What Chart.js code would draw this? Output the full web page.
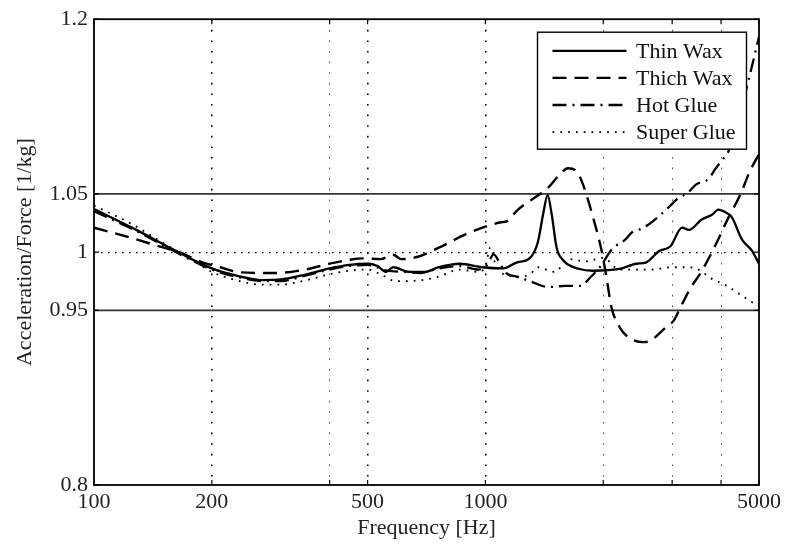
<!DOCTYPE html>
<html>
<head>
<meta charset="utf-8">
<script src="https://cdn.jsdelivr.net/npm/chart.js@4.4.1/dist/chart.umd.min.js"></script>
<style>
  html, body { margin: 0; padding: 0; background: #fff; }
  canvas { display: block; }
</style>
</head>
<body>
<canvas id="graficoResposta" width="795" height="544"></canvas>
<script>
// valores (frequencia em Hz, aceleracao/forca em 1/kg)
var thinWaxFreq = [100, 125, 150, 175, 200, 230, 270, 300, 340, 400, 450, 500, 530, 558, 581, 640, 700, 760, 860, 980, 1110, 1200, 1300, 1360, 1405, 1442, 1476, 1520, 1580, 1740, 1880, 2200, 2430, 2570, 2780, 2970, 3180, 3310, 3570, 3790, 3940, 4060, 4260, 4520, 4800, 5000];
var thinWaxValues = [1.037, 1.021, 1.007, 0.995, 0.986, 0.980, 0.976, 0.9765, 0.980, 0.986, 0.989, 0.990, 0.988, 0.983, 0.987, 0.983, 0.983, 0.987, 0.990, 0.987, 0.986, 0.991, 0.995, 1.008, 1.033, 1.049, 1.033, 1.004, 0.993, 0.9855, 0.984, 0.9855, 0.990, 0.991, 1.001, 1.005, 1.021, 1.019, 1.028, 1.032, 1.0365, 1.035, 1.030, 1.011, 1.001, 0.990];

var thichWaxFreq = [100, 125, 150, 165, 190, 210, 236, 290, 346, 412, 489, 540, 581, 610, 672, 763, 911, 1088, 1140, 1202, 1352, 1433, 1550, 1625, 1708, 1776, 1884, 1981, 2039, 2099, 2203, 2290, 2524, 2624, 2894, 3027, 3182, 3333, 3573, 3882, 4138, 4483, 4741, 5000];
var thichWaxValues = [1.021, 1.012, 1.004, 1.0, 0.991, 0.987, 0.9826, 0.982, 0.985, 0.991, 0.9946, 0.994, 0.9977, 0.994, 0.996, 1.004, 1.0168, 1.0254, 1.0268, 1.0354, 1.048, 1.054, 1.0668, 1.072, 1.0696, 1.058, 1.0297, 1.0011, 0.978, 0.9526, 0.9355, 0.9284, 0.9227, 0.9235, 0.9355, 0.9412, 0.9555, 0.9684, 0.984, 1.0069, 1.0268, 1.0497, 1.0696, 1.084];

var hotGlueFreq = [100, 125, 150, 175, 200, 230, 270, 300, 340, 400, 450, 500, 560, 620, 680, 760, 860, 960, 1010, 1050, 1090, 1130, 1200, 1300, 1450, 1600, 1750, 1850, 1970, 2110, 2265, 2370, 2500, 2620, 2780, 2950, 3100, 3290, 3450, 3720, 3860, 4000, 4170, 4400, 4600, 4800, 5000];
var hotGlueValues = [1.035, 1.02, 1.006, 0.994, 0.985, 0.979, 0.975, 0.975, 0.979, 0.985, 0.988, 0.989, 0.984, 0.983, 0.982, 0.986, 0.988, 0.985, 0.989, 0.998, 0.99, 0.982, 0.979, 0.975, 0.970, 0.971, 0.971, 0.978, 0.988, 1.003, 1.01, 1.017, 1.020, 1.024, 1.031, 1.039, 1.046, 1.051, 1.058, 1.063, 1.071, 1.078, 1.086, 1.11, 1.135, 1.16, 1.185];

var superGlueFreq = [100, 125, 150, 175, 200, 230, 270, 300, 340, 400, 450, 500, 540, 590, 690, 760, 860, 960, 1000, 1030, 1060, 1100, 1200, 1300, 1360, 1500, 1640, 1800, 2000, 2200, 2650, 3000, 3300, 3500, 3790, 4140, 4520, 4800, 5000];
var superGlueValues = [1.04, 1.024, 1.008, 0.995, 0.983, 0.976, 0.972, 0.972, 0.975, 0.981, 0.984, 0.985, 0.981, 0.975, 0.976, 0.979, 0.985, 0.983, 0.988, 1.004, 0.99, 0.982, 0.979, 0.981, 0.987, 0.983, 0.994, 0.992, 0.995, 0.985, 0.985, 0.987, 0.987, 0.985, 0.977, 0.971, 0.9626, 0.957, 0.954];

var seriesNames = ["Thin Wax", "Thich Wax", "Hot Glue", "Super Glue"];
var bandLevels = [0.95, 1.05];
var freqRange = [100, 5000];

var xTickValues = [100, 200, 400, 500, 1000, 2000, 3000, 4000, 5000];
var xTickLabels = ["100", "200", "", "500", "1000", "", "", "", "5000"];
var yTickValues = [0.8, 0.95, 1, 1.05, 1.2];
var yTickLabels = ["0.8", "0.95", "1", "1.05", "1.2"];

function pares(freq, vals) {
  return freq.map(function (f, i) {
    return { x: f, y: vals[i] };
  });
}

var fonteSerif = '"Liberation Serif", "Times New Roman", serif';

// moldura, marcas para dentro e legenda dentro da area
var molduraLegenda = {
  id: "molduraLegenda",
  afterDraw: function (chart) {
    var ctx = chart.ctx;
    var area = chart.chartArea;
    var sx = chart.scales.x;
    var sy = chart.scales.y;
    ctx.save();
    ctx.strokeStyle = "#000";
    ctx.lineWidth = 1.8;
    ctx.strokeRect(area.left, area.top, area.right - area.left, area.bottom - area.top);

    // marcas curtas das divisoes, como no original
    ctx.lineWidth = 1.2;
    ctx.beginPath();
    xTickValues.forEach(function (v) {
      var px = sx.getPixelForValue(v);
      ctx.moveTo(px, area.bottom);
      ctx.lineTo(px, area.bottom - 5);
      ctx.moveTo(px, area.top);
      ctx.lineTo(px, area.top + 5);
    });
    yTickValues.forEach(function (v) {
      var py = sy.getPixelForValue(v);
      ctx.moveTo(area.left, py);
      ctx.lineTo(area.left + 5, py);
      ctx.moveTo(area.right, py);
      ctx.lineTo(area.right - 5, py);
    });
    ctx.stroke();

    var w = 209;
    var h = 117;
    var x0 = area.right - 12.5 - w;
    var y0 = area.top + 13;
    ctx.fillStyle = "#fff";
    ctx.fillRect(x0, y0, w, h);
    ctx.lineWidth = 1.4;
    ctx.strokeRect(x0, y0, w, h);

    ctx.font = "22px " + fonteSerif;
    ctx.textBaseline = "middle";
    ctx.textAlign = "left";
    for (var i = 0; i < seriesNames.length; i++) {
      var ds = chart.data.datasets[i];
      var y = y0 + 18.6 + i * 27.1;
      ctx.save();
      ctx.setLineDash(ds.borderDash || []);
      ctx.lineWidth = ds.borderWidth;
      ctx.strokeStyle = ds.borderColor;
      ctx.beginPath();
      ctx.moveTo(x0 + 15, y);
      ctx.lineTo(x0 + 89, y);
      ctx.stroke();
      ctx.restore();
      ctx.fillStyle = "#111";
      ctx.fillText(ds.label, x0 + 98.5, y + 1);
    }
    ctx.restore();
  }
};

document.addEventListener("DOMContentLoaded", function () {
  var ctx = document.getElementById("graficoResposta").getContext("2d");

  var datasets = [
    {
      label: seriesNames[0],
      data: pares(thinWaxFreq, thinWaxValues),
      borderColor: "#000",
      borderWidth: 2.3,
      borderDash: [],
    },
    {
      label: seriesNames[1],
      data: pares(thichWaxFreq, thichWaxValues),
      borderColor: "#000",
      borderWidth: 2.4,
      borderDash: [14, 8],
    },
    {
      label: seriesNames[2],
      data: pares(hotGlueFreq, hotGlueValues),
      borderColor: "#000",
      borderWidth: 2.3,
      borderDash: [14, 6, 2, 6],
    },
    {
      label: seriesNames[3],
      data: pares(superGlueFreq, superGlueValues),
      borderColor: "#000",
      borderWidth: 1.8,
      borderDash: [1.8, 6],
    },
  ];

  bandLevels.forEach(function (nivel) {
    datasets.push({
      label: "limite " + nivel,
      data: pares(freqRange, [nivel, nivel]),
      borderColor: "#333",
      borderWidth: 1.6,
      borderDash: [],
    });
  });

  datasets.forEach(function (ds) {
    ds.fill = false;
    ds.pointRadius = 0;
    ds.pointHoverRadius = 0;
    ds.cubicInterpolationMode = "monotone";
    ds.borderCapStyle = "butt";
  });

  var grafico = new Chart(ctx, {
    type: "line",
    data: { datasets: datasets },
    options: {
      responsive: false,
      animation: false,
      events: [],
      layout: {
        padding: { top: 18, right: 36, bottom: 0, left: 0 },
      },
      plugins: {
        legend: { display: false },
        tooltip: { enabled: false },
      },
      scales: {
        x: {
          type: "logarithmic",
          min: 100,
          max: 5000,
          afterBuildTicks: function (scale) {
            scale.ticks = xTickValues.map(function (v) {
              return { value: v };
            });
          },
          afterFit: function (scale) {
            scale.height = 59;
          },
          ticks: {
            autoSkip: false,
            maxRotation: 0,
            padding: 4,
            color: "#222",
            font: { family: fonteSerif, size: 22 },
            callback: function (value, index) {
              return xTickLabels[index];
            },
          },
          grid: {
            drawTicks: false,
            color: function (c) {
              var v = c.tick && c.tick.value;
              if (v === 100 || v === 5000) return "rgba(0,0,0,0)";
              return xTickLabels[xTickValues.indexOf(v)] ? "#000" : "#555";
            },
            lineWidth: function (c) {
              var v = c.tick && c.tick.value;
              return xTickLabels[xTickValues.indexOf(v)] ? 1.6 : 1.1;
            },
          },
          border: { display: false, dash: [1.6, 9] },
          title: {
            display: true,
            text: "Frequency [Hz]",
            color: "#222",
            font: { family: fonteSerif, size: 22 },
            padding: { top: 0, bottom: 3 },
          },
        },
        y: {
          type: "linear",
          min: 0.8,
          max: 1.2,
          afterBuildTicks: function (scale) {
            scale.ticks = yTickValues.map(function (v) {
              return { value: v };
            });
          },
          afterFit: function (scale) {
            scale.width = 94;
          },
          ticks: {
            padding: 6,
            color: "#222",
            font: { family: fonteSerif, size: 22 },
            callback: function (value, index) {
              return yTickLabels[index];
            },
          },
          grid: {
            drawTicks: false,
            color: function (c) {
              return c.tick && c.tick.value === 1 ? "#000" : "rgba(0,0,0,0)";
            },
            lineWidth: 1.2,
          },
          border: { display: false, dash: [1.5, 5.5] },
          title: {
            display: true,
            text: "Acceleration/Force [1/kg]",
            color: "#222",
            font: { family: fonteSerif, size: 22 },
            padding: { top: 12, bottom: 0 },
          },
        },
      },
    },
    plugins: [molduraLegenda],
  });
});
</script>
</body>
</html>
